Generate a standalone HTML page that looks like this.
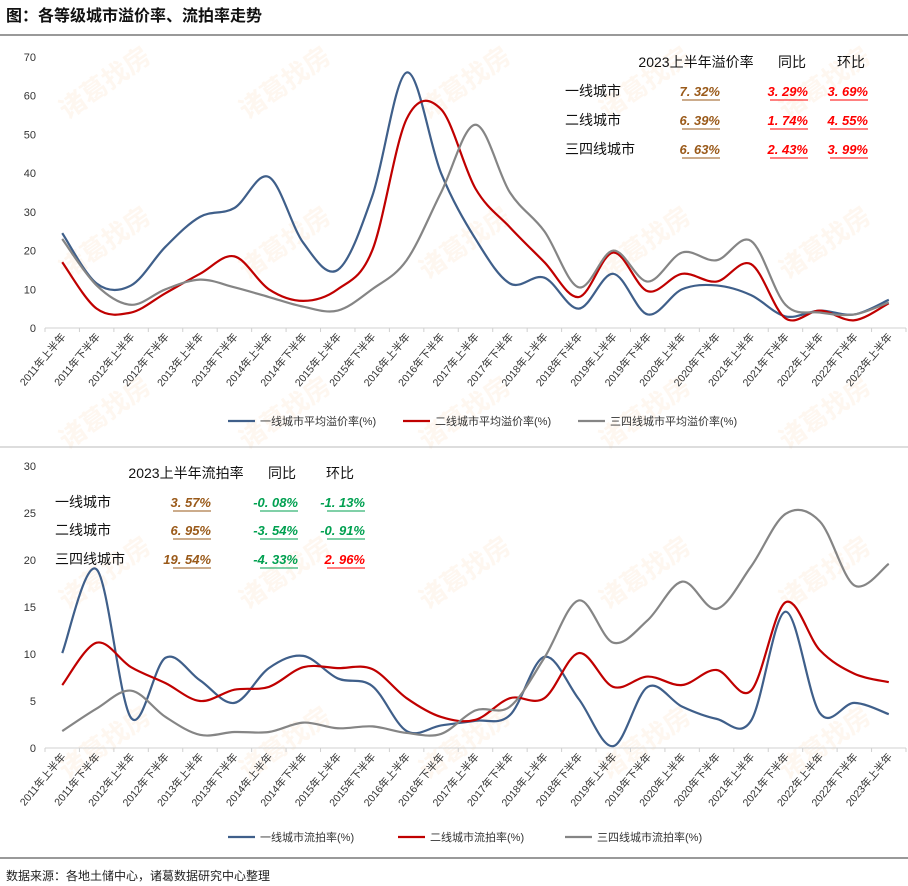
<!DOCTYPE html>
<html><head><meta charset="utf-8">
<style>
html,body{margin:0;padding:0;background:#fff;}
body{width:908px;height:886px;overflow:hidden;position:relative;font-family:"Liberation Sans","Noto Sans CJK SC",sans-serif;}
svg{position:absolute;left:0;top:0;}
</style></head>
<body>
<svg id="chart" width="908" height="886" viewBox="0 0 908 886" xmlns="http://www.w3.org/2000/svg"></svg>
<script>
const categories=["2011年上半年","2011年下半年","2012年上半年","2012年下半年","2013年上半年","2013年下半年","2014年上半年","2014年下半年","2015年上半年","2015年下半年","2016年上半年","2016年下半年","2017年上半年","2017年下半年","2018年上半年","2018年下半年","2019年上半年","2019年下半年","2020年上半年","2020年下半年","2021年上半年","2021年下半年","2022年上半年","2022年下半年","2023年上半年"];
const premiumTier1=[24.5,11.5,11,21,28.7,31,39,22,15,34,66,40,23,11.5,13,5,14,3.5,10,11,8.5,3,4.5,3.5,7.3];
const premiumTier2=[17,5,4,9,14,18.5,10,7,10,20,54,56.5,36,26,17,8,19.5,9.5,14,12,16.5,2.5,4.5,2,6.4];
const premiumTier34=[23,11,6,10,12.5,10.5,8,5.5,4.5,10,17.5,35,52.5,35,25,10.5,20,12,19.5,17.5,22.5,6,4,3.5,6.6];
const premiumTicks=[0,10,20,30,40,50,60,70];
const failTier1=[10.1,19,3.2,9.6,7.2,4.8,8.5,9.8,7.4,6.6,1.8,2.4,2.9,3.5,9.7,5.2,0.2,6.5,4.4,3.1,2.9,14.5,3.7,4.8,3.6];
const failTier2=[6.7,11.2,8.6,6.9,5.0,6.2,6.5,8.6,8.5,8.4,5.3,3.3,3.0,5.3,5.3,10.1,6.5,7.6,6.7,8.3,6.1,15.5,10.4,7.9,7.0];
const failTier34=[1.8,4.2,6.1,3.3,1.4,1.7,1.7,2.7,2.1,2.3,1.6,1.5,4.0,4.4,9.6,15.7,11.2,13.6,17.7,14.8,19.3,24.9,24.1,17.3,19.6];
const failTicks=[0,5,10,15,20,25,30];
const seriesColors=["#3f5f8a","#c00000","#858585"];

const NS="http://www.w3.org/2000/svg";
const svg=document.getElementById('chart');
function mk(tag,attrs,parent,text){const e=document.createElementNS(NS,tag);for(const k in attrs)e.setAttribute(k,attrs[k]);if(text!==undefined)e.textContent=text;(parent||svg).appendChild(e);return e;}

const wm=mk('g',{opacity:0.07});


const wmPos=[[110,90],[290,90],[470,90],[650,90],[830,90],[110,250],[290,250],[470,250],[650,250],[830,250],[110,420],[290,420],[470,420],[650,420],[830,420],[110,580],[290,580],[470,580],[650,580],[830,580],[110,750],[290,750],[470,750],[650,750],[830,750]];
wmPos.forEach(p=>{const t=mk('text',{x:p[0],y:p[1],fill:'#f08020','font-size':26,'font-weight':'bold','text-anchor':'middle',transform:`rotate(-35 ${p[0]} ${p[1]})`,'font-family':'"Noto Sans CJK SC",sans-serif'},wm,'诸葛找房');

});

const title=mk('text',{x:6,y:21,'font-size':16,'font-weight':'bold',fill:'#111'},svg,'图：各等级城市溢价率、流拍率走势');


mk('line',{x1:0,y1:35,x2:908,y2:35,stroke:'#333','stroke-width':1});
mk('line',{x1:0,y1:447,x2:908,y2:447,stroke:'#bbb','stroke-width':1});
mk('line',{x1:0,y1:858,x2:908,y2:858,stroke:'#333','stroke-width':1});
const src=mk('text',{x:6,y:880,'font-size':12,fill:'#222'},svg,'数据来源：各地土储中心，诸葛数据研究中心整理');



const X0=45,X1=906,N=categories.length;
function xPos(i){return X0+(i+0.5)*(X1-X0)/N;}

function smoothPath(pts){
  let d=`M${pts[0][0]},${pts[0][1]}`;
  for(let i=0;i<pts.length-1;i++){
    const p0=pts[Math.max(0,i-1)],p1=pts[i],p2=pts[i+1],p3=pts[Math.min(pts.length-1,i+2)];
    const c1x=p1[0]+(p2[0]-p0[0])/6,c1y=p1[1]+(p2[1]-p0[1])/6;
    const c2x=p2[0]-(p3[0]-p1[0])/6,c2y=p2[1]-(p3[1]-p1[1])/6;
    d+=` C${c1x},${c1y} ${c2x},${c2y} ${p2[0]},${p2[1]}`;
  }
  return d;
}

function drawChart(name,yBase,yTop,maxV,ticks,series,legendNames,legendY,legendXs){
  const g=mk('g',{});
  
  
  const yPos=v=>yBase-(v/maxV)*(yBase-yTop);
  ticks.forEach(t=>{const tx=mk('text',{x:36,y:yPos(t)+4,'font-size':11,fill:'#333','text-anchor':'end'},g,String(t));
    
    });
  mk('line',{x1:X0,y1:yBase,x2:X1,y2:yBase,stroke:'#d0d0d0','stroke-width':1},g);
  for(let i=0;i<=N;i++){const x=X0+i*(X1-X0)/N;mk('line',{x1:x,y1:yBase,x2:x,y2:yBase+4,stroke:'#d0d0d0'},g);}
  categories.forEach((c,i)=>{const x=xPos(i)+4,y=yBase+9;
    const t=mk('text',{x:x,y:y,'font-size':10.5,fill:'#333','text-anchor':'end',transform:`rotate(-50 ${x} ${y})`},g,c);
    
    });
  series.forEach((s,k)=>{const pts=s.map((v,i)=>[xPos(i),yPos(v)]);
    const p=mk('path',{d:smoothPath(pts),fill:'none',stroke:seriesColors[k],'stroke-width':2.2,'stroke-linejoin':'round'},g);
    
    });
  legendNames.forEach((n,k)=>{const lx=legendXs[k];
    const lg=mk('g',{},g);
    
    
    mk('line',{x1:lx,y1:legendY,x2:lx+27,y2:legendY,stroke:seriesColors[k],'stroke-width':2.2},lg);
    mk('text',{x:lx+32,y:legendY+4,'font-size':11,fill:'#333'},lg,n);});
}

drawChart('premium-rate-chart',328,57,70,premiumTicks,[premiumTier1,premiumTier2,premiumTier34],
 ['一线城市平均溢价率(%)','二线城市平均溢价率(%)','三四线城市平均溢价率(%)'],421,[228,403,578]);
drawChart('failed-auction-chart',748,466,30,failTicks,[failTier1,failTier2,failTier34],
 ['一线城市流拍率(%)','二线城市流拍率(%)','三四线城市流拍率(%)'],837,[228,398,565]);

function table(name,hx,hy,hdr,rows,labelX,valXs,rowYs){
  const g=mk('g',{});
  
  
  hdr.forEach((h,i)=>mk('text',{x:hx[i],y:hy,'font-size':14,fill:'#111','text-anchor':'middle'},g,h));
  rows.forEach((r,j)=>{
    mk('text',{x:labelX,y:rowYs[j],'font-size':14,fill:'#111'},g,r[0]);
    for(let c=1;c<4;c++){const v=r[c];const x=valXs[c-1];
      const t=mk('text',{x:x,y:rowYs[j],'font-size':13,fill:v.col,'font-style':'italic','font-weight':'bold','text-anchor':'end'},g,v.t);
      
      
      mk('line',{x1:x-38,y1:rowYs[j]+4,x2:x,y2:rowYs[j]+4,stroke:v.col,'stroke-width':1},g);}
  });
}
const B='#9a5a1a',R='#ff0000',G='#00a050';
table('premium-summary-table',[696,792,851],67,['2023上半年溢价率','同比','环比'],[
 ['一线城市',{t:'7. 32%',col:B},{t:'3. 29%',col:R},{t:'3. 69%',col:R}],
 ['二线城市',{t:'6. 39%',col:B},{t:'1. 74%',col:R},{t:'4. 55%',col:R}],
 ['三四线城市',{t:'6. 63%',col:B},{t:'2. 43%',col:R},{t:'3. 99%',col:R}]],565,[720,808,868],[96,125,154]);
table('failed-summary-table',[186,282,340],478,['2023上半年流拍率','同比','环比'],[
 ['一线城市',{t:'3. 57%',col:B},{t:'-0. 08%',col:G},{t:'-1. 13%',col:G}],
 ['二线城市',{t:'6. 95%',col:B},{t:'-3. 54%',col:G},{t:'-0. 91%',col:G}],
 ['三四线城市',{t:'19. 54%',col:B},{t:'-4. 33%',col:G},{t:'2. 96%',col:R}]],55,[211,298,365],[507,535,564]);
</script>
</body></html>
